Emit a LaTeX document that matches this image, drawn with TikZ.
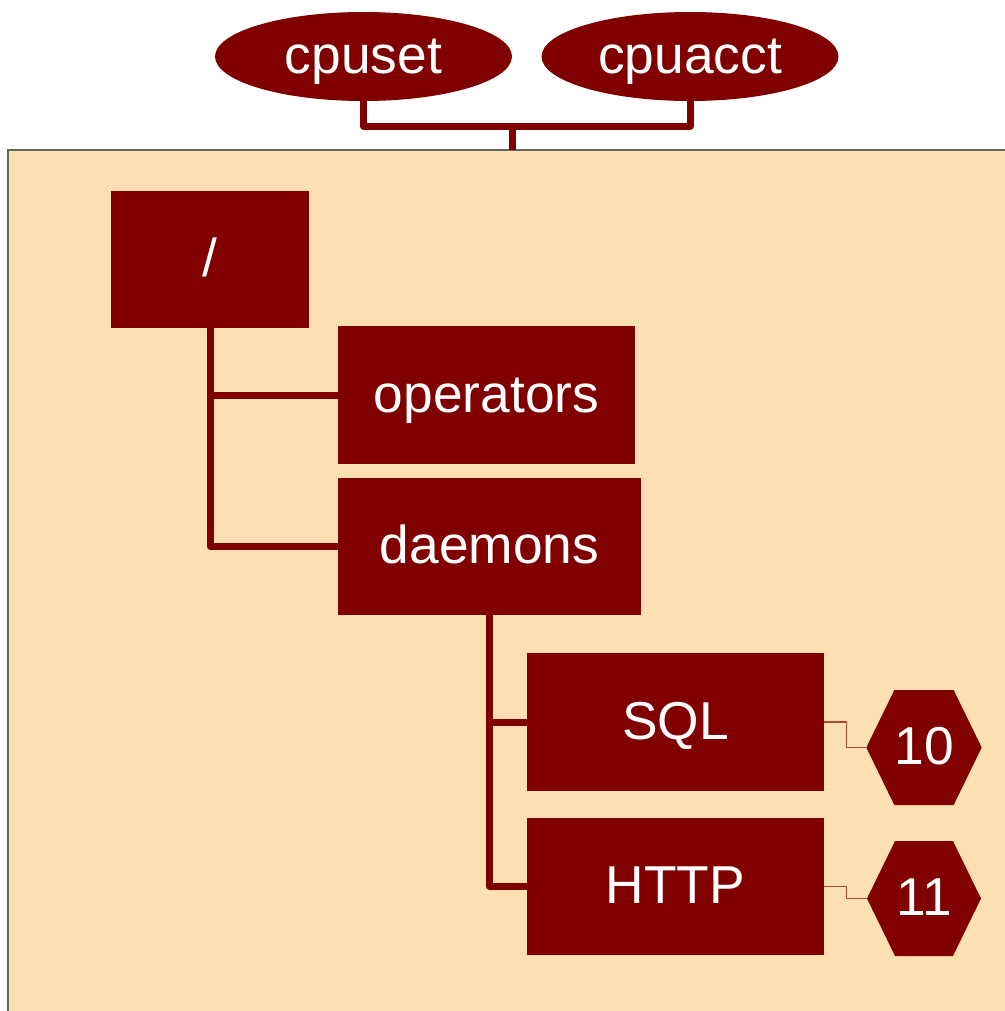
\documentclass[tikz,border=0pt]{standalone}
\usepackage{fontspec}
\setmainfont{Liberation Sans}
\usetikzlibrary{shapes.geometric,shapes.symbols}
\definecolor{cgred}{RGB}{128,0,0}
\definecolor{cgpeach}{RGB}{253,224,178}
\definecolor{cgwire}{RGB}{176,72,52}

\begin{document}
\begin{tikzpicture}[x=0.75pt,y=-0.75pt,
    label font/.style={font=\fontsize{40}{48}\selectfont,text height=30pt,text depth=4.5pt},
    ctrl/.style={ellipse,fill=cgred,text=white,inner sep=0pt,minimum width=222.75pt,minimum height=66.75pt,label font},
    group/.style={rectangle,fill=cgred,text=white,inner sep=0pt,minimum height=103pt,label font},
    task/.style={signal,signal to=east and west,signal pointer angle=128,fill=cgred,text=white,inner sep=0pt,minimum width=85.5pt,minimum height=86.25pt,label font},
    tree/.style={cgred,line width=5.25pt,line join=round},
    wire/.style={cgwire,line width=1.1pt}]
    \useasboundingbox (0,0) rectangle (1005,1011);
    % hierarchy frame
    \fill[cgpeach,draw=gray!80!black,line width=1.2pt] (8,150) rectangle (1020,1030);
    % controllers
    \node[ctrl] (cpuset) at (363.5,56.5) {cpuset};
    \node[ctrl] (cpuacct) at (690,56.5) {cpuacct};
    \coordinate (joint) at (512,126);
    \coordinate (entry) at (512,150);
    \draw[tree] (cpuset.south) |- (joint) -| (cpuacct.south);
    \draw[tree] (joint) -- (entry);
    % cgroups
    \node[group,minimum width=148.5pt] (root) at (210,259.5) {/};
    \node[group,minimum width=222.75pt] (operators) at (486.5,395) {operators};
    \node[group,minimum width=227.25pt] (daemons) at (489.5,546.5) {daemons};
    \node[group,minimum width=222.75pt] (sql) at (675.5,722) {SQL};
    \node[group,minimum width=222.75pt] (http) at (675.5,886.5) {HTTP};
    \draw[tree] (root.south) |- (operators.west);
    \draw[tree] (root.south) |- (daemons.west);
    \draw[tree] (daemons.south) |- (sql.west);
    \draw[tree] (daemons.south) |- (http.west);
    % tasks
    \node[task] (pid10) at (924,747.5) {10};
    \node[task] (pid11) at (924,898.5) {11};
    \draw[wire] (sql.east) -- ++(22,0) |- (pid10.west);
    \draw[wire] (http.east) -- ++(22,0) |- (pid11.west);
\end{tikzpicture}
\end{document}
